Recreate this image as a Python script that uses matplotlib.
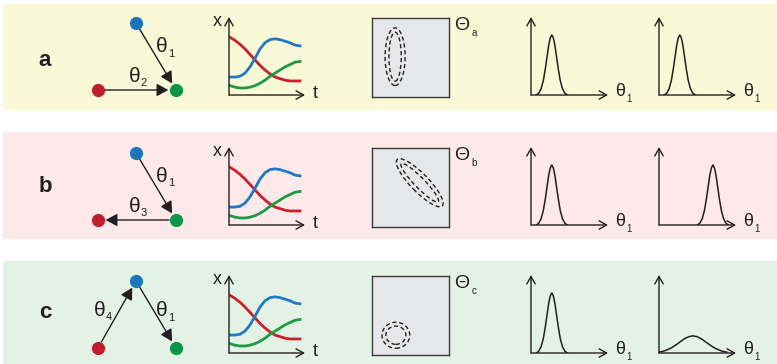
import numpy as np
import matplotlib.pyplot as plt
from matplotlib.patches import Rectangle, Ellipse

plt.rcParams['font.family'] = ['Liberation Sans', 'DejaVu Sans']

# Figure size in pixels
W, H = 777, 364

# Rows of the figure
row_labels = ['a', 'b', 'c']
band_colors = ['#F9F8D7', '#FDE9E9', '#E4F2E5']
band_top = [4, 132, 261]
band_bottom = [110, 239, 364]
row_dy = [0, 130, 258]
label_y = [60, 187, 313]

# Network nodes (same layout for each row)
node_names = ['blue', 'red', 'green']
node_x = [136, 98, 176]
node_y = [23, 90, 90]
node_colors = {'blue': '#1B75BC', 'red': '#BE1E2D', 'green': '#0A9548'}

# Edges: (source, target, label, label x, label y)
edges = [
    [('blue', 'green', '1', 162, 47), ('red', 'green', '2', 135, 76)],
    [('blue', 'green', '1', 162, 46), ('green', 'red', '3', 135, 76)],
    [('red', 'blue', '4', 100, 52), ('blue', 'green', '1', 162, 53)],
]

# Time courses (same in every row)
t = np.arange(15)
x_red = [0.74, 0.70, 0.65, 0.59, 0.52, 0.45, 0.38, 0.32, 0.27, 0.23, 0.21, 0.19, 0.18, 0.18, 0.18]
x_blue = [0.23, 0.23, 0.24, 0.28, 0.36, 0.47, 0.59, 0.67, 0.71, 0.72, 0.71, 0.69, 0.67, 0.64, 0.63]
x_green = [0.12, 0.10, 0.09, 0.09, 0.10, 0.12, 0.15, 0.19, 0.24, 0.28, 0.32, 0.36, 0.39, 0.42, 0.43]

# Parameter-space confidence regions (outer, inner)
ell_cx = [0.30, 0.62, 0.31]
ell_cy = [0.51, 0.56, 0.25]
ell_outer = [(0.26, 0.73), (0.83, 0.23), (0.36, 0.33)]
ell_inner = [(0.16, 0.62), (0.68, 0.13), (0.26, 0.23)]
ell_angle = [0, -45, 0]
theta_sub = ['a', 'b', 'c']

# Marginal distributions of theta_1
narrow_off = [-0.2, -0.17, -0.14, -0.11, -0.085, -0.06, -0.04, -0.02, 0,
              0.02, 0.04, 0.06, 0.085, 0.11, 0.14, 0.17, 0.2]
narrow_h = [0, 0.03, 0.10, 0.24, 0.43, 0.65, 0.83, 0.95, 1,
            0.95, 0.83, 0.65, 0.43, 0.24, 0.10, 0.03, 0]
broad_off = [-0.44, -0.385, -0.33, -0.275, -0.22, -0.165, -0.11, -0.055, 0,
             0.055, 0.11, 0.165, 0.22, 0.275, 0.33, 0.385, 0.44]
broad_h = [0.05, 0.10, 0.19, 0.31, 0.47, 0.65, 0.83, 0.95, 1,
           0.95, 0.83, 0.65, 0.47, 0.31, 0.19, 0.10, 0.05]
left_center = [0.27, 0.27, 0.27]
right_center = [0.27, 0.70, 0.44]
right_shape = ['narrow', 'narrow', 'broad']
narrow_height = 0.77
broad_height = 0.22

ink = '#231F20'

fig = plt.figure(figsize=(W / 100, H / 100), dpi=100)
bg = fig.add_axes([0, 0, 1, 1])
bg.set_xlim(0, W)
bg.set_ylim(H, 0)
bg.axis('off')


def px_axes(x0, y0, x1, y1):
    ax = fig.add_axes([x0 / W, 1 - y1 / H, (x1 - x0) / W, (y1 - y0) / H])
    ax.patch.set_visible(False)
    return ax


def axis_arrows(ax):
    style = '->,head_length=0.45,head_width=0.25'
    for end in [(0, 1), (1, 0)]:
        ax.annotate('', xy=end, xytext=(0, 0), xycoords='axes fraction',
                    arrowprops=dict(arrowstyle=style, lw=1.0, color=ink,
                                    shrinkA=0, shrinkB=0, mutation_scale=12))


for i, lab in enumerate(row_labels):
    dy = row_dy[i]
    bg.add_patch(Rectangle((3, band_top[i]), W - 3, band_bottom[i] - band_top[i],
                           color=band_colors[i], lw=0, zorder=0))
    bg.text(45, label_y[i], lab, fontsize=16, fontweight='bold',
            ha='center', va='center', color=ink)

    # network
    pos = {n: (node_x[k], node_y[k] + dy) for k, n in enumerate(node_names)}
    for src, dst, sub, lx, ly in edges[i]:
        bg.annotate('', xy=pos[dst], xytext=pos[src],
                    arrowprops=dict(arrowstyle='-|>,head_length=0.7,head_width=0.38',
                                    mutation_scale=10, lw=1.0, color=ink,
                                    shrinkA=5, shrinkB=5.5), zorder=2)
        bg.text(lx, ly + dy, '\u03b8', fontsize=15, ha='center', va='center', color=ink)
        bg.text(lx + 9, ly + dy + 7, sub, fontsize=8, ha='center', va='center', color=ink)
    for n in node_names:
        bg.plot(*pos[n], 'o', ms=9.5, color=node_colors[n], mec='none', zorder=3)

    # time courses
    ts = px_axes(229, 17 + dy, 305, 95 + dy)
    ts.set_xlim(-0.2, 15)
    ts.set_ylim(0, 1)
    ts.axis('off')
    ts.plot(t, x_red, color='#C8202F', lw=2)
    ts.plot(t, x_blue, color='#1F7AC2', lw=2)
    ts.plot(t, x_green, color='#1E9A45', lw=2)
    axis_arrows(ts)
    bg.text(217, 22 + dy, 'x', fontsize=13, ha='center', va='center', color=ink)
    bg.text(315, 93 + dy, 't', fontsize=13, ha='center', va='center', color=ink)

    # parameter space
    sq = px_axes(372, 18 + dy, 449, 97 + dy)
    sq.patch.set_visible(True)
    sq.set_facecolor('#E6E7E8')
    sq.set_xlim(0, 1)
    sq.set_ylim(0, 1)
    sq.set_xticks([])
    sq.set_yticks([])
    for s in sq.spines.values():
        s.set_color('#3A3A3A')
        s.set_linewidth(1)
    for w, h in (ell_outer[i], ell_inner[i]):
        sq.add_patch(Ellipse((ell_cx[i], ell_cy[i]), w, h, angle=ell_angle[i],
                             fill=False, ec=ink, lw=1, ls=(0, (3, 2))))
    bg.text(462, 25 + dy, '\u0398', fontsize=14, ha='center', va='center', color=ink)
    bg.text(474, 33 + dy, theta_sub[i], fontsize=7, ha='center', va='center', color=ink)

    # marginal distributions
    for j, (x0, lx) in enumerate([(531, 620), (659, 748)]):
        da = px_axes(x0, 17 + dy, x0 + 77, 95 + dy)
        da.set_xlim(0, 1)
        da.set_ylim(0, 1)
        da.axis('off')
        if j == 0 or right_shape[i] == 'narrow':
            c = left_center[i] if j == 0 else right_center[i]
            da.plot(c + np.array(narrow_off), narrow_height * np.array(narrow_h),
                    color=ink, lw=1.1)
        else:
            c = right_center[i]
            da.plot(c + np.array(broad_off), broad_height * np.array(broad_h),
                    color=ink, lw=1.1)
        axis_arrows(da)
        bg.text(lx, 91 + dy, '\u03b8', fontsize=13, ha='center', va='center', color=ink)
        bg.text(lx + 9, 99 + dy, '1', fontsize=7, ha='center', va='center', color=ink)

fig.savefig('out.png', dpi=100)
